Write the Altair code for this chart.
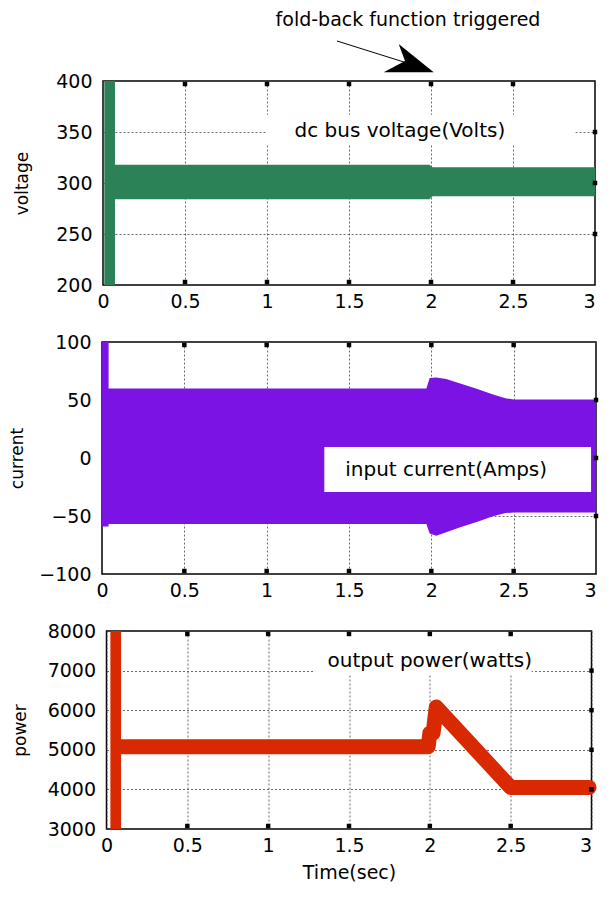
import altair as alt
import pandas as pd

# ---------------- data ----------------
x_ticks = [0, 0.5, 1, 1.5, 2, 2.5, 3]
x_inner = [0.5, 1, 1.5, 2, 2.5]

# dc bus voltage envelope
volt_t = [0.07, 1.99, 2.01, 3.0]
volt_hi = [318, 318, 315.5, 315.5]
volt_lo = [284, 284, 287, 287]
volt_spike_t = [0.008, 0.073]
volt_spike_v = [200, 400]
volt_ticks = [200, 250, 300, 350, 400]

# input current envelope
cur_t = [0.0, 1.97, 1.99, 2.03, 2.09, 2.18, 2.28, 2.37, 2.45, 2.5, 3.0]
cur_hi = [60, 60, 69, 69.5, 68, 64, 59.5, 55, 51.5, 50.5, 50.5]
cur_lo = [-57, -57, -65, -67, -64, -59.5, -55, -50.5, -47.5, -47, -47]
cur_spike_t = [0.0, 0.04]
cur_spike_v = [-59, 100]
cur_ticks = [-100, -50, 0, 50, 100]

# output power (thick trace)
pow_t = [0.09, 1.99, 2.0, 2.02, 2.04, 2.5, 2.985]
pow_v = [5080, 5080, 5420, 5420, 6080, 4050, 4050]
pow_spike_t = [0.024, 0.09]
pow_spike_v = [3000, 8000]
pow_ticks = [3000, 4000, 5000, 6000, 7000, 8000]

# legend boxes  (t0, t1, y0, y1, text_t, text_y, label)
volt_box = [1.0, 2.88, 338, 367, 1.81, 351, "dc bus voltage(Volts)"]
cur_box = [1.35, 2.97, -29.3, 9.5, 2.09, -10.3, "input current(Amps)"]
pow_box = [1.29, 2.63, 6889, 7900, 2.0, 7242, "output power(watts)"]

annot_text = "fold-back function triggered"

GREEN = "#2b8257"
PURPLE = "#7a13e3"
RED = "#d92900"
FONT = "DejaVu Sans"


class Panel:
    def __init__(self, dom, ticks, ytitle, tpad, xtitle=None):
        self.dom, self.ticks, self.ytitle, self.tpad, self.xtitle = dom, ticks, ytitle, tpad, xtitle

    def x(self, field="t"):
        return alt.X(f"{field}:Q",
                     scale=alt.Scale(domain=[0, 3], nice=False, zero=False),
                     axis=alt.Axis(values=x_ticks, format="~g", title=self.xtitle,
                                   titlePadding=8,
                                   labelAlign={"expr": "datum.value >= 3 ? 'right' : 'center'"}))

    def y(self, field="v"):
        return alt.Y(f"{field}:Q",
                     scale=alt.Scale(domain=self.dom, nice=False, zero=False),
                     axis=alt.Axis(values=self.ticks, format="d", title=self.ytitle,
                                   titlePadding=self.tpad))

    def band(self, t, lo, hi, color):
        df = pd.DataFrame({"t": t, "v": lo, "v2": hi})
        return alt.Chart(df).mark_area(color=color, opacity=1).encode(
            x=self.x(), y=self.y(), y2="v2:Q")

    def rect(self, ts, vs, color):
        df = pd.DataFrame({"t": [ts[0]], "t2": [ts[1]], "v": [vs[0]], "v2": [vs[1]]})
        return alt.Chart(df).mark_rect(color=color, opacity=1).encode(
            x=self.x(), x2="t2:Q", y=self.y(), y2="v2:Q")

    def box(self, b):
        rect = self.rect(b[0:2], b[2:4], "white")
        tdf = pd.DataFrame({"t": [b[4]], "v": [b[5]], "lab": [b[6]]})
        txt = alt.Chart(tdf).mark_text(font=FONT, fontSize=20, color="black",
                                       align="center", baseline="middle").encode(
            x=self.x(), y=self.y(), text="lab:N")
        return [rect, txt]

    def tick_marks(self):
        top = pd.DataFrame({"t": x_inner, "v": [self.dom[1]] * len(x_inner)})
        bot = pd.DataFrame({"t": x_inner, "v": [self.dom[0]] * len(x_inner)})
        right = pd.DataFrame({"t": [3] * (len(self.ticks) - 2), "v": self.ticks[1:-1]})
        lays = []
        for df, dy in [(top, 3), (bot, -3), (right, 0)]:
            lays.append(alt.Chart(df).mark_square(size=20, color="black", opacity=1).encode(
                x=self.x(), y=self.y(), yOffset=alt.value(dy)))
        return lays


# ---------------- panel 1: voltage ----------------
P1 = Panel([200, 400], volt_ticks, "voltage", 24)
one = pd.DataFrame({"a": [0]})
ann_text = alt.Chart(one).mark_text(font=FONT, fontSize=19, color="black",
                                    align="center", baseline="middle",
                                    text=annot_text).encode(
    x=alt.value(305), y=alt.value(-61))
ann_line = alt.Chart(one).mark_rule(color="black", strokeWidth=1).encode(
    x=alt.value(234), y=alt.value(-40), x2=alt.value(304), y2=alt.value(-18))
ann_head = alt.Chart(one).mark_point(
    shape="M -10.3 -17 L 24.7 11.3 L -25.3 11.3 L -4 0 Z",
    filled=True, size=4, color="black", opacity=1, strokeWidth=0).encode(
    x=alt.value(306), y=alt.value(-20))

p1 = alt.layer(
    P1.band(volt_t, volt_lo, volt_hi, GREEN),
    P1.rect(volt_spike_t, volt_spike_v, GREEN),
    *P1.box(volt_box),
    *P1.tick_marks(),
    ann_line, ann_head, ann_text,
).properties(width=492, height=204)

# ---------------- panel 2: current ----------------
P2 = Panel([-100, 100], cur_ticks, "current", 12)
p2 = alt.layer(
    P2.band(cur_t, cur_lo, cur_hi, PURPLE),
    P2.rect(cur_spike_t, cur_spike_v, PURPLE),
    *P2.box(cur_box),
    *P2.tick_marks(),
).properties(width=494, height=232)

# ---------------- panel 3: power ----------------
P3 = Panel([3000, 8000], pow_ticks, "power", 18, xtitle="Time(sec)")
pdf = pd.DataFrame({"t": pow_t, "v": pow_v})
p_line = alt.Chart(pdf).mark_line(color=RED, strokeWidth=15, strokeCap="round",
                                  strokeJoin="round").encode(x=P3.x(), y=P3.y())
p3 = alt.layer(
    p_line,
    P3.rect(pow_spike_t, pow_spike_v, RED),
    *P3.box(pow_box),
    *P3.tick_marks(),
).properties(width=485, height=198)

chart = alt.vconcat(p1, p2, p3, spacing=57, center=True, bounds="flush").properties(
    padding={"left": 0, "top": 2, "right": 0, "bottom": 0}
).configure_view(
    stroke="black", strokeWidth=1.5
).configure_axis(
    grid=True, gridColor="#444444", gridDash=[2, 2], gridWidth=0.8,
    ticks=False, domain=False,
    labelFont=FONT, labelFontSize=19, labelColor="black", labelPadding=11,
    titleFont=FONT, titleFontSize=17, titleFontWeight="normal", titleColor="black",
).configure_axisX(
    titleFontSize=19, labelPadding=7
)

chart.save("out.html", embed_options={"renderer": "svg", "actions": False})
